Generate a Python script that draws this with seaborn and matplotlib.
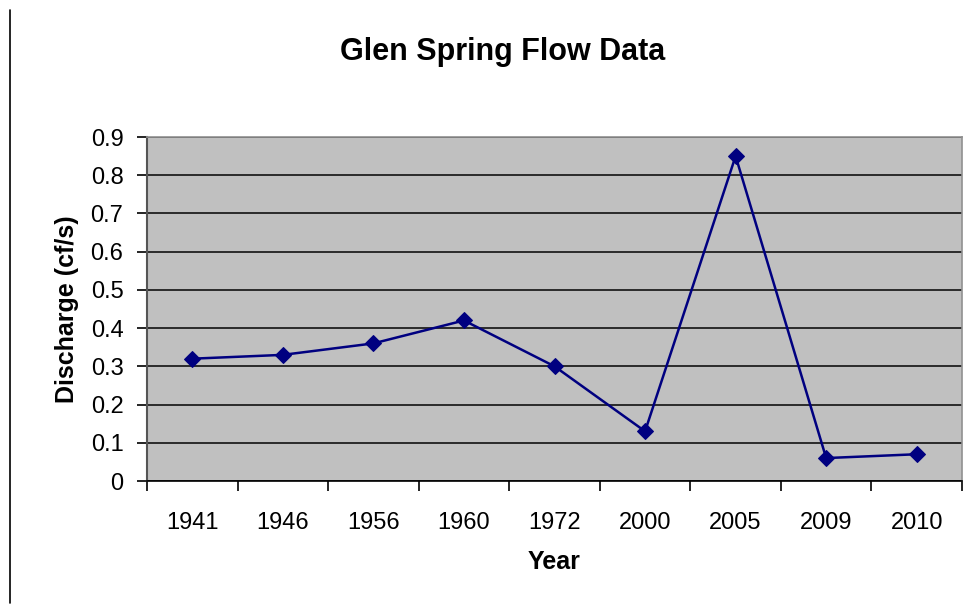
import pandas as pd
import matplotlib.pyplot as plt
import seaborn as sns
from matplotlib.lines import Line2D
from matplotlib.ticker import FixedLocator

# Data
years = ['1941', '1946', '1956', '1960', '1972', '2000', '2005', '2009', '2010']
discharge = [0.32, 0.33, 0.36, 0.42, 0.30, 0.13, 0.85, 0.06, 0.07]
y_ticks = [0, 0.1, 0.2, 0.3, 0.4, 0.5, 0.6, 0.7, 0.8, 0.9]

df = pd.DataFrame({'Year': years, 'Discharge': discharge})

sns.set_theme(style="white")
plt.rcParams['font.family'] = ['Liberation Sans', 'DejaVu Sans']
plt.rcParams['text.color'] = 'black'
plt.rcParams['axes.labelcolor'] = 'black'
plt.rcParams['xtick.color'] = 'black'
plt.rcParams['ytick.color'] = 'black'

fig = plt.figure(figsize=(9.77, 6.09), dpi=100)
ax = fig.add_axes([147 / 977, 1 - 481 / 609, 815 / 977, 344 / 609])
ax.set_facecolor('#c0c0c0')

sns.lineplot(data=df, x='Year', y='Discharge', sort=False, ax=ax,
             color='#000080', linewidth=1.8, marker='D', markersize=8,
             markeredgecolor='#000080', zorder=3)

ax.set_xlim(-0.5, len(years) - 0.5)
ax.set_ylim(0, 0.9)
ax.set_yticks(y_ticks)
ax.set_yticklabels([f'{v:g}' for v in y_ticks])
ax.yaxis.grid(True, color='#111111', linewidth=1.2)
ax.set_axisbelow(True)

# category labels centered, tick marks between categories
ax.set_xticks(range(len(years)))
ax.set_xticklabels(years)
ax.tick_params(axis='x', which='major', length=0, pad=22, labelsize=17)
ax.xaxis.set_minor_locator(FixedLocator([i - 0.5 for i in range(len(years) + 1)]))
ax.tick_params(axis='x', which='minor', bottom=True, length=7, width=1.2, color='black', direction='out')
ax.tick_params(axis='y', left=True, length=7, width=1.2, color='black', direction='out', labelsize=17, pad=10)

for side in ['top', 'right']:
    ax.spines[side].set_color('#909090')
    ax.spines[side].set_linewidth(1.2)
ax.spines['left'].set_color('#555555')
ax.spines['left'].set_linewidth(1.5)
ax.spines['bottom'].set_color('black')
ax.spines['bottom'].set_linewidth(1.2)

ax.set_xlabel('Year', fontsize=18, fontweight='bold', labelpad=12)
ax.set_ylabel('Discharge (cf/s)', fontsize=18, fontweight='bold', labelpad=8)
fig.text(503 / 977, 1 - 52 / 609, 'Glen Spring Flow Data', fontsize=22,
         fontweight='bold', ha='center', va='center')

# left border line of the original screenshot
fig.add_artist(Line2D([10 / 977, 10 / 977], [1 - 10 / 609, 1 - 603 / 609],
                      color='black', linewidth=1.2))

plt.savefig('out.png', dpi=100)
